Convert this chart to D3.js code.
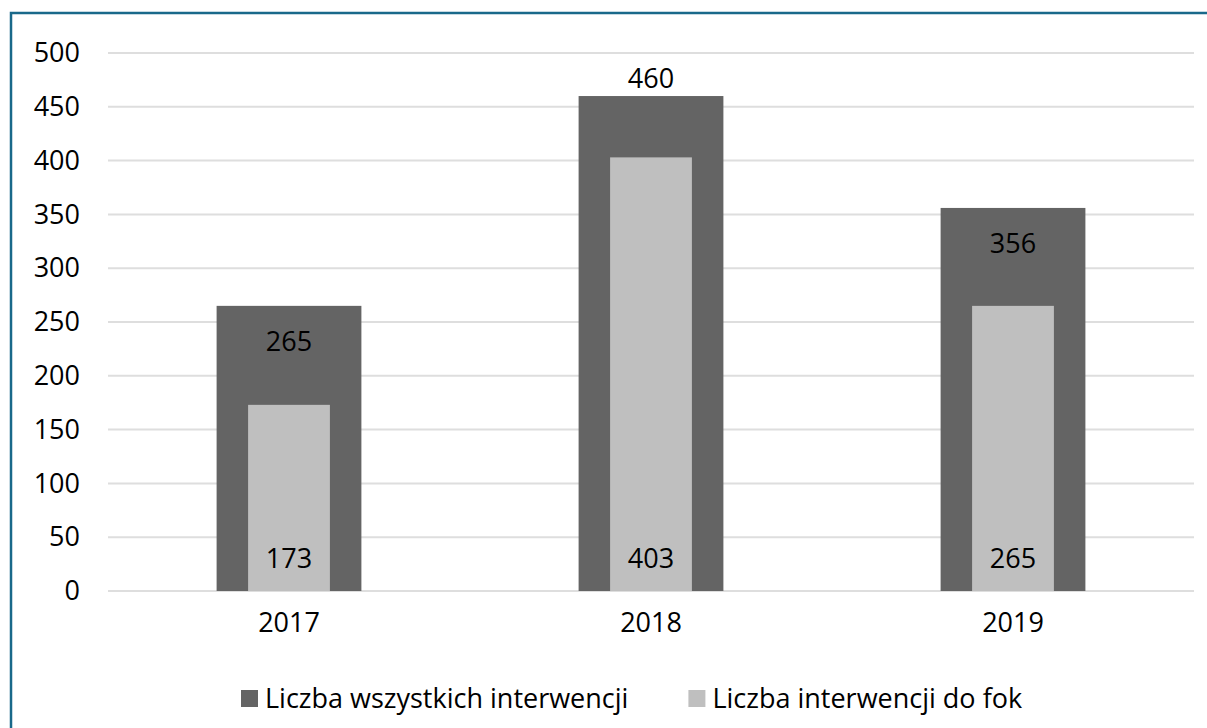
<!DOCTYPE html>
<html>
<head>
<meta charset="utf-8">
<script src="https://cdn.jsdelivr.net/npm/d3@7"></script>
<style>
  body { margin: 0; background: #fff; }
  svg { display: block; font-family: "Open Sans", sans-serif; }
</style>
</head>
<body>
<div id="wrapper"></div>
<script>
const years = ["2017", "2018", "2019"];
const allInterventions = [265, 460, 356];
const sealInterventions = [173, 403, 265];
const yTicks = [0, 50, 100, 150, 200, 250, 300, 350, 400, 450, 500];
const seriesNames = ["Liczba wszystkich interwencji", "Liczba interwencji do fok"];
const seriesColors = ["#646464", "#bfbfbf"];

const dataset = years.map((year, i) => ({
  year,
  all: allInterventions[i],
  seals: sealInterventions[i],
}));

// 1. chart dimensions
let dimensions = {
  width: 1207,
  height: 728,
  marginTop: 53,
  marginRight: 13,
  marginBottom: 137,
  marginLeft: 108
};
dimensions.boundedWidth = dimensions.width - dimensions.marginLeft - dimensions.marginRight;
dimensions.boundedHeight = dimensions.height - dimensions.marginTop - dimensions.marginBottom;

const fontSize = 27;

// 2. draw canvas
const wrapper = d3.select("#wrapper")
  .append("svg")
    .attr("width", dimensions.width)
    .attr("height", dimensions.height);

// frame (only top and left edges are visible in the crop)
wrapper.append("rect")
    .attr("x", 11)
    .attr("y", 13)
    .attr("width", dimensions.width + 20)
    .attr("height", dimensions.height + 20)
    .attr("fill", "none")
    .attr("stroke", "#19698a")
    .attr("stroke-width", 2.5);

const bounds = wrapper.append("g")
    .attr("transform", `translate(${dimensions.marginLeft},${dimensions.marginTop})`);

// 3. scales
const xScale = d3.scaleBand()
  .domain(years)
  .range([0, dimensions.boundedWidth])
  .padding(0);

const yScale = d3.scaleLinear()
  .domain([0, 500])
  .range([dimensions.boundedHeight, 0]);

// 4. gridlines
bounds.append("g")
  .selectAll("line")
  .data(yTicks)
  .enter().append("line")
    .attr("x1", 0)
    .attr("x2", dimensions.boundedWidth)
    .attr("y1", d => yScale(d))
    .attr("y2", d => yScale(d))
    .attr("stroke", "#dedede")
    .attr("stroke-width", 2);

// 5. bars
const bw = xScale.bandwidth();
const darkW = bw * 0.4;
const lightW = bw * 0.226;

bounds.selectAll(".bar-all")
    .data(dataset)
  .enter().append("rect")
    .attr("class", "bar-all")
    .attr("x", d => xScale(d.year) + (bw - darkW) / 2)
    .attr("y", d => yScale(d.all))
    .attr("width", darkW)
    .attr("height", d => yScale(0) - yScale(d.all))
    .attr("fill", seriesColors[0]);

bounds.selectAll(".bar-seals")
    .data(dataset)
  .enter().append("rect")
    .attr("class", "bar-seals")
    .attr("x", d => xScale(d.year) + (bw - lightW) / 2)
    .attr("y", d => yScale(d.seals))
    .attr("width", lightW)
    .attr("height", d => yScale(0) - yScale(d.seals))
    .attr("fill", seriesColors[1]);

// 6. value labels
// dark label sits just inside the top, unless the light bar leaves no room
bounds.selectAll(".label-all")
    .data(dataset)
  .enter().append("text")
    .attr("class", "label-all")
    .attr("x", d => xScale(d.year) + bw / 2)
    .attr("y", d => (d.all - d.seals) > 70
      ? yScale(d.all) + 36
      : yScale(d.all) - 17)
    .attr("dy", "0.35em")
    .attr("text-anchor", "middle")
    .attr("font-size", fontSize)
    .attr("fill", "#000")
    .text(d => d.all);

bounds.selectAll(".label-seals")
    .data(dataset)
  .enter().append("text")
    .attr("class", "label-seals")
    .attr("x", d => xScale(d.year) + bw / 2)
    .attr("y", yScale(0) - 32)
    .attr("dy", "0.35em")
    .attr("text-anchor", "middle")
    .attr("font-size", fontSize)
    .attr("fill", "#000")
    .text(d => d.seals);

// 7. axes
const yAxisGenerator = d3.axisLeft(yScale)
  .tickValues(yTicks)
  .tickSize(0)
  .tickPadding(28);

const yAxis = bounds.append("g").call(yAxisGenerator);
yAxis.select(".domain").remove();
yAxis.selectAll("text")
    .attr("font-size", fontSize)
    .attr("font-family", "Open Sans, sans-serif")
    .attr("fill", "#000");

const xAxisGenerator = d3.axisBottom(xScale)
  .tickSize(0)
  .tickPadding(22);

const xAxis = bounds.append("g")
    .attr("transform", `translate(0,${dimensions.boundedHeight})`)
    .call(xAxisGenerator);
xAxis.select(".domain").remove();
xAxis.selectAll("text")
    .attr("font-size", fontSize)
    .attr("font-family", "Open Sans, sans-serif")
    .attr("fill", "#000");

// 8. legend
const legend = wrapper.append("g")
    .attr("transform", "translate(241,690)");

let cursor = 0;
seriesNames.forEach((name, i) => {
  const item = legend.append("g").attr("transform", `translate(${cursor},0)`);
  item.append("rect")
      .attr("width", 17)
      .attr("height", 17)
      .attr("fill", seriesColors[i]);
  const label = item.append("text")
      .attr("x", 24)
      .attr("y", 9)
      .attr("dy", "0.35em")
      .attr("font-size", fontSize)
      .attr("fill", "#000")
      .text(name);
  cursor += 24 + label.node().getComputedTextLength() + 60;
});
</script>
</body>
</html>
